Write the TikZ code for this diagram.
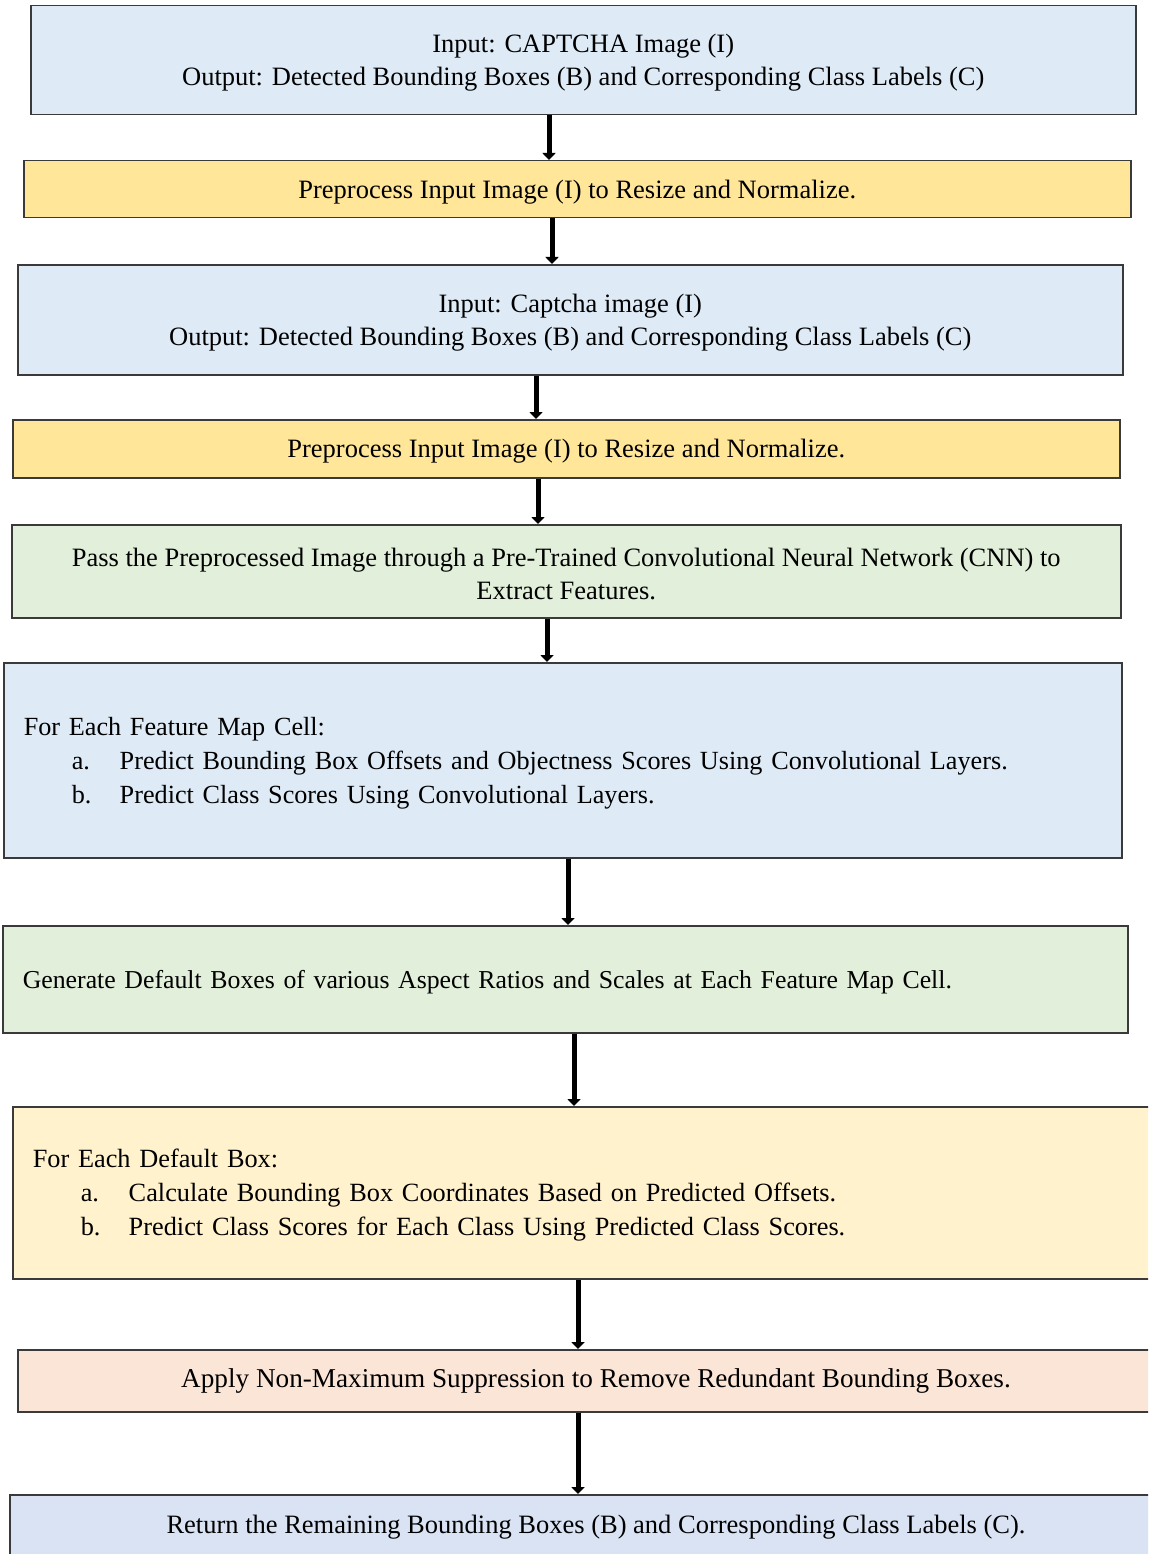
\documentclass[tikz,border=0pt]{standalone}
\usepackage{fontspec}
\setmainfont{Liberation Serif}
\usetikzlibrary{arrows.meta}

\definecolor{bluebox}{HTML}{DEEBF7}
\definecolor{goldbox}{HTML}{FFE699}
\definecolor{greenbox}{HTML}{E2EFDA}
\definecolor{creambox}{HTML}{FFF2CC}
\definecolor{peachbox}{HTML}{FBE5D6}
\definecolor{steelbox}{HTML}{DAE3F3}
\definecolor{edgegray}{HTML}{3A3A3A}

% extra room above the first line lowers the text block a little
\newcommand{\toproom}{\rule{0pt}{24pt}}

\tikzset{
  stagebox/.style={draw=edgegray, line width=1.5pt, inner sep=0pt,
    anchor=north west, font=\fontsize{26.5}{33}\selectfont},
  centred/.style={align=center},
  leftset/.style={align=left},
  flow/.style={line width=5pt, -{Triangle[width=13pt,length=7pt]}}
}

\begin{document}
\begin{tikzpicture}[x=1pt,y=-1pt]
\useasboundingbox (0,0) rectangle (1148,1554);
\clip (0,0) rectangle (1148,1554);

\node[stagebox, centred, fill=bluebox, minimum width=1105pt, minimum height=109pt]
  (b1) at (30,5) {\toproom Input: CAPTCHA Image (I)\\Output: Detected Bounding Boxes (B) and Corresponding Class Labels (C)};

\node[stagebox, centred, fill=goldbox, minimum width=1107pt, minimum height=57pt]
  (b2) at (23,160) {\toproom Preprocess Input Image (I) to Resize and Normalize.};

\node[stagebox, centred, fill=bluebox, minimum width=1105pt, minimum height=110pt]
  (b3) at (17,264) {\toproom Input: Captcha image (I)\\Output: Detected Bounding Boxes (B) and Corresponding Class Labels (C)};

\node[stagebox, centred, fill=goldbox, minimum width=1107pt, minimum height=58pt]
  (b4) at (12,419) {\toproom Preprocess Input Image (I) to Resize and Normalize.};

\node[stagebox, centred, fill=greenbox, minimum width=1109pt, minimum height=93pt]
  (b5) at (11,524) {\toproom Pass the Preprocessed Image through a Pre-Trained Convolutional Neural Network (CNN) to\\Extract Features.};

\node[stagebox, leftset, fill=bluebox, minimum width=1118pt, minimum height=195pt, text width=1078pt,
  font=\fontsize{26.2}{34}\selectfont]
  (b6) at (3,662) {\toproom For Each Feature Map Cell:\\
  \hspace*{48pt}\makebox[48pt][l]{a.}Predict Bounding Box Offsets and Objectness Scores Using Convolutional Layers.\\
  \hspace*{48pt}\makebox[48pt][l]{b.}Predict Class Scores Using Convolutional Layers.};

\node[stagebox, leftset, fill=greenbox, minimum width=1125pt, minimum height=107pt, text width=1085pt,
  font=\fontsize{25.8}{33}\selectfont]
  (b7) at (2,925) {\toproom Generate Default Boxes of various Aspect Ratios and Scales at Each Feature Map Cell.};

\node[stagebox, leftset, fill=creambox, minimum width=1200pt, minimum height=172pt, text width=1160pt,
  font=\fontsize{26.3}{34}\selectfont]
  (b8) at (12,1106) {\toproom For Each Default Box:\\
  \hspace*{48pt}\makebox[48pt][l]{a.}Calculate Bounding Box Coordinates Based on Predicted Offsets.\\
  \hspace*{48pt}\makebox[48pt][l]{b.}Predict Class Scores for Each Class Using Predicted Class Scores.};

\node[stagebox, fill=peachbox, minimum width=1200pt, minimum height=62pt]
  (b9) at (17,1349) {};
\node[font=\fontsize{27.2}{33}\selectfont, inner sep=0pt] (t9) at (596,1381)
  {Apply Non-Maximum Suppression to Remove Redundant Bounding Boxes.};

\node[stagebox, fill=steelbox, minimum width=1200pt, minimum height=80pt]
  (b10) at (9,1494) {};
\node[font=\fontsize{26.5}{33}\selectfont, inner sep=0pt] (t10) at (596,1527)
  {Return the Remaining Bounding Boxes (B) and Corresponding Class Labels (C).};

\draw[flow] (b1.south -| 549,0) -- (b2.north -| 549,0);
\draw[flow] (b2.south -| 552,0) -- (b3.north -| 552,0);
\draw[flow] (b3.south -| 536,0) -- (b4.north -| 536,0);
\draw[flow] (b4.south -| 538,0) -- (b5.north -| 538,0);
\draw[flow] (b5.south -| 547,0) -- (b6.north -| 547,0);
\draw[flow] (b6.south -| 568,0) -- (b7.north -| 568,0);
\draw[flow] (b7.south -| 574,0) -- (b8.north -| 574,0);
\draw[flow] (b8.south -| 578,0) -- (b9.north -| 578,0);
\draw[flow] (b9.south -| 578,0) -- (b10.north -| 578,0);
\end{tikzpicture}
\end{document}
